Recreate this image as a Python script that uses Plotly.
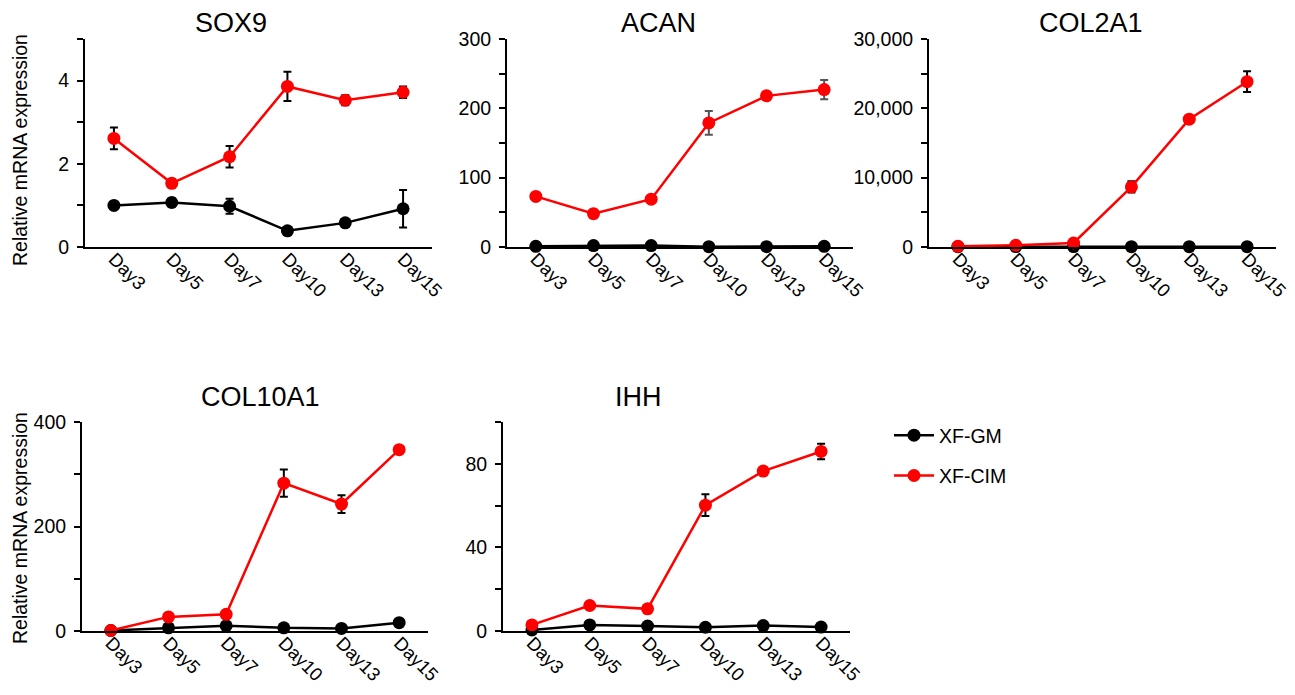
import plotly.graph_objects as go

days = ["Day3", "Day5", "Day7", "Day10", "Day13", "Day15"]
series_names = ["XF-GM", "XF-CIM"]
genes = ["SOX9", "ACAN", "COL2A1", "COL10A1", "IHH"]

# XF-GM (black) means and errors
gm_sox9 = [1.00, 1.07, 0.98, 0.39, 0.58, 0.92]
gm_sox9_err = [0.08, 0.10, 0.18, 0.04, 0.05, 0.45]
gm_acan = [1.0, 2.0, 2.0, 0.5, 0.5, 1.0]
gm_acan_err = [0.3, 0.4, 0.4, 0.2, 0.2, 0.3]
gm_col2a1 = [50, 60, 60, 40, 40, 40]
gm_col2a1_err = [10, 10, 10, 10, 10, 10]
gm_col10a1 = [1, 6, 10, 6, 5, 16]
gm_col10a1_err = [0.3, 1, 1, 1, 1, 2]
gm_ihh = [0.5, 2.9, 2.4, 1.8, 2.6, 1.9]
gm_ihh_err = [0.1, 0.3, 0.3, 0.2, 0.3, 0.2]

# XF-CIM (red) means and errors
cim_sox9 = [2.61, 1.53, 2.17, 3.86, 3.53, 3.72]
cim_sox9_err = [0.26, 0.10, 0.26, 0.35, 0.12, 0.14]
cim_acan = [73, 48, 69, 179, 218, 227]
cim_acan_err = [5, 3, 3, 17, 3, 14]
cim_col2a1 = [100, 250, 580, 8670, 18440, 23840]
cim_col2a1_err = [50, 100, 150, 800, 400, 1500]
cim_col10a1 = [1, 27, 32, 283, 243, 347]
cim_col10a1_err = [0.5, 2, 2, 26, 17, 5]
cim_ihh = [2.9, 12.2, 10.6, 60.2, 76.5, 85.9]
cim_ihh_err = [0.3, 0.5, 0.5, 5.2, 2.0, 3.7]

gm_vals = [gm_sox9, gm_acan, gm_col2a1, gm_col10a1, gm_ihh]
gm_errs = [gm_sox9_err, gm_acan_err, gm_col2a1_err, gm_col10a1_err, gm_ihh_err]
cim_vals = [cim_sox9, cim_acan, cim_col2a1, cim_col10a1, cim_ihh]
cim_errs = [cim_sox9_err, cim_acan_err, cim_col2a1_err, cim_col10a1_err, cim_ihh_err]

# y-axis ticks per panel
tick_sox9 = [0, 1, 2, 3, 4, 5]
text_sox9 = ["0", "", "2", "", "4", ""]
tick_acan = [0, 50, 100, 150, 200, 250, 300]
text_acan = ["0", "", "100", "", "200", "", "300"]
tick_col2a1 = [0, 5000, 10000, 15000, 20000, 25000, 30000]
text_col2a1 = ["0", "", "10,000", "", "20,000", "", "30,000"]
tick_col10a1 = [0, 100, 200, 300, 400]
text_col10a1 = ["0", "", "200", "", "400"]
tick_ihh = [0, 20, 40, 60, 80, 100]
text_ihh = ["0", "", "40", "", "80", ""]
yticks = [tick_sox9, tick_acan, tick_col2a1, tick_col10a1, tick_ihh]
ytexts = [text_sox9, text_acan, text_col2a1, text_col10a1, text_ihh]
ymax = [5, 300, 30000, 400, 100]

# page body has an 8px margin; work in reference pixels and shift
OFF = 8
W, H = 1295 - OFF, 695 - 2 * OFF


def fx(px):
    return (px - OFF) / W


def fy(py):
    return 1 - (py - OFF) / H


# panel pixel boxes (reference coords): x0, x1, ytop, ybottom
boxes = [
    (85, 432, 39, 247),
    (507, 853, 39, 247),
    (929, 1276, 39, 247),
    (82, 428, 422, 631),
    (503, 850, 422, 631),
]
title_pos = [(231, 23), (658, 23), (1091, 23), (260, 397), (638, 397)]
cim_err_colors = ["black", "#555555", "black", "black", "black"]

FONT = "Liberation Sans, Arial, sans-serif"
TF = 19.5
TFX = 18.5
fig = go.Figure()
layout = dict(
    width=W, height=H, autosize=False,
    margin=dict(l=0, r=0, t=0, b=0),
    paper_bgcolor="white", plot_bgcolor="white",
    font=dict(family=FONT, size=TF, color="black"),
    showlegend=True,
)
annotations = []

for i, g in enumerate(genes):
    sfx = "" if i == 0 else str(i + 1)
    xa, ya = "x" + sfx, "y" + sfx
    x0, x1, yt, yb = boxes[i]
    layout["xaxis" + sfx] = dict(
        domain=[fx(x0), fx(x1)], anchor=ya, type="category",
        range=[-0.5, 5.5], showline=True, linecolor="black", linewidth=2,
        ticks="", tickangle=45, showgrid=False, zeroline=False,
        ticklabelstandoff=-8,
        tickfont=dict(size=TFX, family=FONT), automargin=False,
    )
    layout["yaxis" + sfx] = dict(
        domain=[fy(yb), fy(yt)], anchor=xa,
        range=[0, ymax[i]], showline=True, linecolor="black", linewidth=2,
        ticks="outside", ticklen=6, tickwidth=1.5, tickcolor="black",
        tickvals=yticks[i], ticktext=ytexts[i], ticklabelstandoff=4,
        showgrid=False, zeroline=False,
        tickfont=dict(size=TF, family=FONT), automargin=False,
    )
    fig.add_trace(go.Scatter(
        x=days, y=gm_vals[i], xaxis=xa, yaxis=ya, mode="lines+markers",
        name=series_names[0], legendgroup="gm", showlegend=(i == 0),
        line=dict(color="black", width=2.5),
        marker=dict(color="black", size=13),
        error_y=dict(type="data", array=gm_errs[i], color="black", thickness=2, width=4),
        cliponaxis=False,
    ))
    fig.add_trace(go.Scatter(
        x=days, y=cim_vals[i], xaxis=xa, yaxis=ya, mode="lines+markers",
        name=series_names[1], legendgroup="cim", showlegend=(i == 0),
        line=dict(color="#ff0000", width=2.5),
        marker=dict(color="#ff0000", size=13),
        error_y=dict(type="data", array=cim_errs[i], color=cim_err_colors[i], thickness=2, width=4),
        cliponaxis=False,
    ))
    tx, ty = title_pos[i]
    annotations.append(dict(
        text=g, x=fx(tx), y=fy(ty), xref="paper", yref="paper",
        xanchor="center", yanchor="middle", showarrow=False,
        font=dict(size=27, family=FONT, color="black"),
    ))

for (cx, cy) in [(20, 150), (20, 528)]:
    annotations.append(dict(
        text="Relative mRNA expression", x=fx(cx), y=fy(cy),
        xref="paper", yref="paper", xanchor="center", yanchor="middle",
        showarrow=False, textangle=-90,
        font=dict(size=TF, family=FONT, color="black"),
    ))

layout["annotations"] = annotations
layout["legend"] = dict(
    x=fx(889), y=fy(416), xanchor="left", yanchor="top",
    font=dict(size=TF, family=FONT), bgcolor="rgba(0,0,0,0)",
    itemwidth=40, tracegroupgap=12,
)
fig.update_layout(**layout)
fig.write_html("out.html")
